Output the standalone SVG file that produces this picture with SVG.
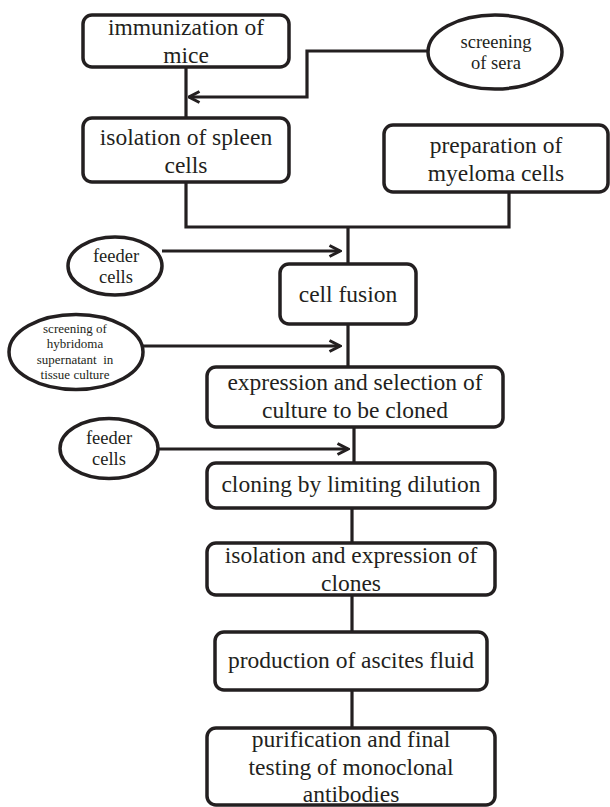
<svg xmlns="http://www.w3.org/2000/svg" width="610" height="807" viewBox="0 0 610 807">
<style>
.box{fill:#fff;stroke:#231f20;stroke-width:3.5}
.ell{fill:#fff;stroke:#231f20;stroke-width:3.5}
text{font-family:'Liberation Serif','DejaVu Serif',serif;fill:#231f20;text-anchor:middle}
.big{font-size:23.5px}
.mid{font-size:18.5px}
.sm{font-size:13px}
.c{fill:none;stroke:#231f20;stroke-width:3.2}
</style>
<defs>
<marker id="arr" viewBox="0 0 14 14" refX="12.5" refY="7" markerWidth="14" markerHeight="14" markerUnits="userSpaceOnUse" orient="auto">
<path d="M2,1.5 L12.5,7 L2,12.5" fill="none" stroke="#231f20" stroke-width="3"/>
</marker>
</defs>
<rect width="610" height="807" fill="#fff"/>
<g id="connectors">
<path class="c" d="M186,67 V118"/>
<path class="c" d="M428,51 H307 V97 H189" marker-end="url(#arr)"/>
<path class="c" d="M186,182 V227 H509 V192"/>
<path class="c" d="M348,227 V264"/>
<path class="c" d="M162,251 H340" marker-end="url(#arr)"/>
<path class="c" d="M348,324 V367"/>
<path class="c" d="M143,346 H340" marker-end="url(#arr)"/>
<path class="c" d="M354,427 V463"/>
<path class="c" d="M158,449 H348" marker-end="url(#arr)"/>
<path class="c" d="M352,508 V543"/>
<path class="c" d="M352,595 V632"/>
<path class="c" d="M352,690 V728"/>
</g>
<g id="immunization">
<rect class="box" x="83" y="15" width="206" height="52" rx="9"/>
<text class="big" x="186" y="35" font-family="Liberation Serif">immunization of</text>
<text class="big" x="186" y="63" font-family="Liberation Serif">mice</text>
</g>
<g id="screening-sera">
<ellipse class="ell" cx="495" cy="52" rx="67" ry="37"/>
<text class="mid" x="496" y="48">screening</text>
<text class="mid" x="496" y="69">of sera</text>
</g>
<g id="spleen">
<rect class="box" x="83" y="118" width="206" height="64" rx="9"/>
<text class="big" x="186" y="145">isolation of spleen</text>
<text class="big" x="186" y="173">cells</text>
</g>
<g id="myeloma">
<rect class="box" x="384" y="125" width="224" height="67" rx="9"/>
<text class="big" x="496" y="153">preparation of</text>
<text class="big" x="496" y="181">myeloma cells</text>
</g>
<g id="feeder1">
<ellipse class="ell" cx="115" cy="266" rx="47" ry="29"/>
<text class="mid" x="116" y="262">feeder</text>
<text class="mid" x="116" y="283">cells</text>
</g>
<g id="fusion">
<rect class="box" x="280" y="264" width="136" height="60" rx="9"/>
<text class="big" x="348" y="302">cell fusion</text>
</g>
<g id="screening-hybridoma">
<ellipse class="ell" cx="76" cy="352" rx="67" ry="37.5"/>
<text class="sm" x="75" y="333">screening of</text>
<text class="sm" x="75" y="348">hybridoma</text>
<text class="sm" x="75" y="364" xml:space="preserve">supernatant  in</text>
<text class="sm" x="75" y="379">tissue culture</text>
</g>
<g id="expression">
<rect class="box" x="207" y="367" width="296" height="60" rx="9"/>
<text class="big" x="355" y="390">expression and selection of</text>
<text class="big" x="355" y="418">culture to be cloned</text>
</g>
<g id="feeder2">
<ellipse class="ell" cx="109" cy="448.5" rx="49" ry="30"/>
<text class="mid" x="109" y="444">feeder</text>
<text class="mid" x="109" y="465">cells</text>
</g>
<g id="cloning">
<rect class="box" x="207" y="463" width="288" height="45" rx="9"/>
<text class="big" x="351" y="492">cloning by limiting dilution</text>
</g>
<g id="isolation-clones">
<rect class="box" x="207" y="543" width="288" height="52" rx="9"/>
<text class="big" x="351" y="563">isolation and expression of</text>
<text class="big" x="351" y="591">clones</text>
</g>
<g id="ascites">
<rect class="box" x="215" y="632" width="272" height="58" rx="9"/>
<text class="big" x="351" y="668">production of ascites fluid</text>
</g>
<g id="purification">
<rect class="box" x="207" y="728" width="288" height="77" rx="9"/>
<text class="big" x="351" y="747">purification and final</text>
<text class="big" x="351" y="775">testing of monoclonal</text>
<text class="big" x="351" y="802">antibodies</text>
</g>
</svg>
